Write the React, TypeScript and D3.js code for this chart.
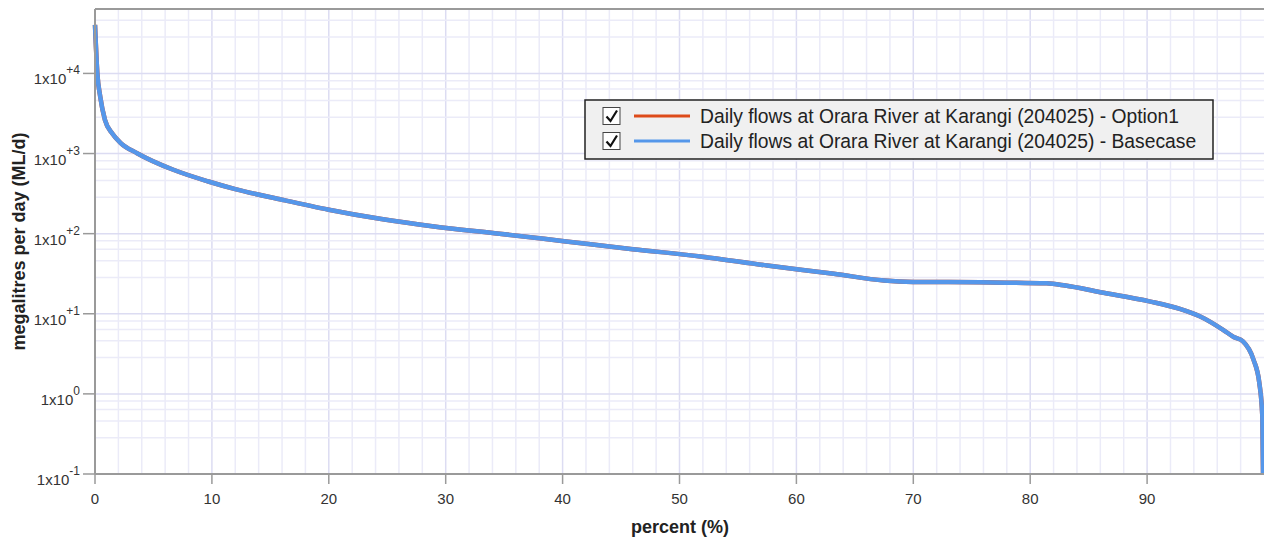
import React, { useEffect, useRef } from 'react';
import * as d3 from 'd3';

// flow duration curve (percent exceedance vs ML/d)
const percent = [
  0, 0.2, 0.45, 0.85, 1.48, 2.2, 3.6, 6.7, 9.7, 12, 16, 20, 24.5, 29, 34.6,
  40.3, 46, 51.8, 57.5, 63.2, 67.5, 70, 75.7, 81.4, 83, 86, 90.2, 92.8, 94.5,
  96.5, 97.4, 98.2, 99.1, 99.6, 99.86, 99.92,
];
const basecase = [
  40300, 10000, 5100, 2630, 1780, 1350, 1010, 627, 448, 360, 265, 199, 152, 123,
  100, 80, 64, 52, 40, 31.6, 26, 25, 24.7, 24, 22.5, 18.6, 14.3, 11.5, 9.3, 6.3,
  5.14, 4.53, 2.68, 1.37, 0.52, 0.1,
];
const option1 = basecase.slice();

const seriesNames = [
  'Daily flows at Orara River at Karangi (204025) - Option1',
  'Daily flows at Orara River at Karangi (204025) - Basecase',
];
const seriesColors = ['#dd4b1a', '#5597ea'];
const xTicks = [0, 10, 20, 30, 40, 50, 60, 70, 80, 90];
const yDecades = [-1, 0, 1, 2, 3, 4];
const yMinorSteps = [2.84, 4.6, 6.38, 8.13];

const FONT = 'Arial, "Liberation Sans", sans-serif';

function App() {
  const svgRef = useRef<SVGSVGElement>(null);

  useEffect(() => {
    const width = 1264;
    const height = 539;
    const margin = { left: 95, top: 9, bottom: 65 };

    const svg = d3.select(svgRef.current);
    svg.selectAll('*').remove();
    svg.attr('width', width).attr('height', height);

    const x = d3.scaleLinear().domain([0, 100]).range([margin.left, margin.left + 1169]);
    const y = d3.scaleLog().domain([0.1, 63700]).range([height - margin.bottom, margin.top]);
    const [yBottom, yTop] = y.range();

    const grid = svg.append('g');
    // vertical grid every 2%
    d3.range(2, 100, 2).forEach((v) => {
      grid.append('line')
        .attr('x1', x(v)).attr('x2', x(v))
        .attr('y1', yTop).attr('y2', yBottom)
        .attr('stroke', v % 10 === 0 ? '#dcdcf2' : '#ebebf8')
        .attr('stroke-width', 1.5);
    });
    // horizontal grid, decades + the odd minor spacing used by the source chart
    const [lo, hi] = y.domain();
    yDecades.concat([5]).forEach((k) => {
      yMinorSteps.forEach((m) => {
        const v = m * Math.pow(10, k - 1);
        if (v > lo && v < hi) {
          grid.append('line')
            .attr('x1', x(0)).attr('x2', width)
            .attr('y1', y(v)).attr('y2', y(v))
            .attr('stroke', '#ebebf8')
            .attr('stroke-width', 1.5);
        }
      });
    });
    yDecades.forEach((k) => {
      const v = Math.pow(10, k);
      grid.append('line')
        .attr('x1', x(0)).attr('x2', width)
        .attr('y1', y(v)).attr('y2', y(v))
        .attr('stroke', '#dcdcf2')
        .attr('stroke-width', 1.5);
    });

    // series
    const line = d3.line<number>()
      .x((d, i) => x(percent[i]))
      .y((d) => y(d))
      .curve(d3.curveMonotoneX);
    [option1, basecase].forEach((s, i) => {
      svg.append('path')
        .datum(s)
        .attr('d', line)
        .attr('fill', 'none')
        .attr('stroke', seriesColors[i])
        .attr('stroke-width', 4.5)
        .attr('stroke-linejoin', 'round');
    });

    // frame
    svg.append('line')
      .attr('x1', x(0)).attr('x2', width).attr('y1', yTop).attr('y2', yTop)
      .attr('stroke', '#9a9a9a').attr('stroke-width', 2);
    svg.append('line')
      .attr('x1', x(0)).attr('x2', x(0)).attr('y1', yTop).attr('y2', yBottom)
      .attr('stroke', '#9a9a9a').attr('stroke-width', 2);
    svg.append('line')
      .attr('x1', x(0)).attr('x2', width).attr('y1', yBottom).attr('y2', yBottom)
      .attr('stroke', '#9a9a9a').attr('stroke-width', 2);

    // x axis ticks
    const xAxis = svg.append('g');
    xTicks.forEach((t) => {
      xAxis.append('line')
        .attr('x1', x(t)).attr('x2', x(t)).attr('y1', yBottom).attr('y2', yBottom + 10)
        .attr('stroke', '#9a9a9a').attr('stroke-width', 1.5);
      xAxis.append('text')
        .attr('x', x(t)).attr('y', yBottom + 30)
        .attr('text-anchor', 'middle')
        .attr('font-family', FONT)
        .attr('font-size', 15)
        .attr('fill', '#333')
        .text(t);
    });

    // y axis ticks
    const yAxis = svg.append('g');
    yDecades.forEach((k) => {
      const ty = y(Math.pow(10, k));
      yAxis.append('line')
        .attr('x1', x(0) - 12).attr('x2', x(0)).attr('y1', ty).attr('y2', ty)
        .attr('stroke', '#9a9a9a').attr('stroke-width', 1.5);
      const label = yAxis.append('text')
        .attr('x', 80).attr('y', ty + 11)
        .attr('text-anchor', 'end')
        .attr('font-family', FONT)
        .attr('font-size', 15)
        .attr('fill', '#333');
      label.append('tspan').text('1x10');
      label.append('tspan')
        .attr('dy', -10)
        .attr('font-size', 12)
        .text(k > 0 ? `+${k}` : `${k}`);
    });

    // axis titles
    svg.append('text')
      .attr('x', 680).attr('y', 533)
      .attr('text-anchor', 'middle')
      .attr('font-family', FONT)
      .attr('font-weight', 'bold')
      .attr('font-size', 18)
      .attr('fill', '#222')
      .text('percent (%)');
    svg.append('text')
      .attr('transform', `translate(25,${(yTop + yBottom) / 2}) rotate(-90)`)
      .attr('text-anchor', 'middle')
      .attr('font-family', FONT)
      .attr('font-weight', 'bold')
      .attr('font-size', 18)
      .attr('fill', '#222')
      .text('megalitres per day (ML/d)');

    // legend
    const legend = svg.append('g').attr('transform', 'translate(585,100)');
    legend.append('rect')
      .attr('width', 628).attr('height', 59)
      .attr('fill', '#f0f0f0')
      .attr('stroke', '#222')
      .attr('stroke-width', 1.5);
    seriesNames.forEach((name, i) => {
      const row = legend.append('g').attr('transform', `translate(0,${16 + i * 25})`);
      row.append('rect')
        .attr('x', 18).attr('y', -8.5).attr('width', 17).attr('height', 17)
        .attr('fill', '#fff').attr('stroke', '#444').attr('stroke-width', 1);
      row.append('path')
        .attr('d', 'M21.5,0.5 L25.5,5 L32,-5.5')
        .attr('fill', 'none').attr('stroke', '#111').attr('stroke-width', 2.2);
      row.append('line')
        .attr('x1', 49).attr('x2', 105).attr('y1', 0).attr('y2', 0)
        .attr('stroke', seriesColors[i]).attr('stroke-width', 3);
      row.append('text')
        .attr('x', 115).attr('y', 6.5)
        .attr('font-family', FONT)
        .attr('font-size', 19.3)
        .attr('fill', '#222')
        .text(name);
    });
  }, []);

  return (
    <svg ref={svgRef} style={{ position: 'absolute', left: 0, top: 0 }}></svg>
  );
}

export default App;
